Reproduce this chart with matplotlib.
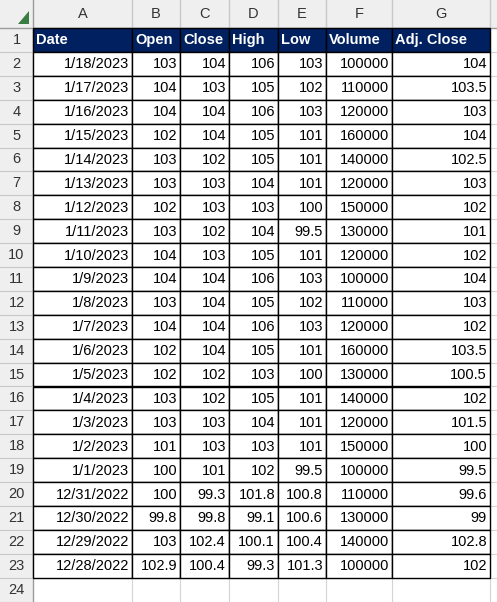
import matplotlib.pyplot as plt
from matplotlib.patches import Rectangle, Polygon

plt.rcParams["font.family"] = ["Liberation Sans", "DejaVu Sans"]

columns = ["Date", "Open", "Close", "High", "Low", "Volume", "Adj. Close"]
dates = ["1/18/2023", "1/17/2023", "1/16/2023", "1/15/2023", "1/14/2023", "1/13/2023",
         "1/12/2023", "1/11/2023", "1/10/2023", "1/9/2023", "1/8/2023", "1/7/2023",
         "1/6/2023", "1/5/2023", "1/4/2023", "1/3/2023", "1/2/2023", "1/1/2023",
         "12/31/2022", "12/30/2022", "12/29/2022", "12/28/2022"]
open_ = [103, 104, 104, 102, 103, 103, 102, 103, 104, 104, 103, 104,
         102, 102, 103, 103, 101, 100, 100, 99.8, 103, 102.9]
close = [104, 103, 104, 104, 102, 103, 103, 102, 103, 104, 104, 104,
         104, 102, 102, 103, 103, 101, 99.3, 99.8, 102.4, 100.4]
high = [106, 105, 106, 105, 105, 104, 103, 104, 105, 106, 105, 106,
        105, 103, 105, 104, 103, 102, 101.8, 99.1, 100.1, 99.3]
low = [103, 102, 103, 101, 101, 101, 100, 99.5, 101, 103, 102, 103,
       101, 100, 101, 101, 101, 99.5, 100.8, 100.6, 100.4, 101.3]
volume = [100000, 110000, 120000, 160000, 140000, 120000, 150000, 130000, 120000,
          100000, 110000, 120000, 160000, 130000, 140000, 120000, 150000, 100000,
          110000, 130000, 140000, 100000]
adj_close = [104, 103.5, 103, 104, 102.5, 103, 102, 101, 102, 104, 103, 102,
             103.5, 100.5, 102, 101.5, 100, 99.5, 99.6, 99, 102.8, 102]

col_letters = ["A", "B", "C", "D", "E", "F", "G"]
col_edges = [33, 132, 180, 229, 278, 326, 392, 490]
head_h = 28
row_h = 23.9
n_rows = 24

fig = plt.figure(figsize=(4.97, 6.02), dpi=100)
ax = fig.add_axes([0, 0, 1, 1])
ax.set_xlim(0, 497)
ax.set_ylim(602, 0)
ax.axis("off")

grid = "#D4D4D4"
fs = 10.5

# sheet header strips
ax.add_patch(Rectangle((0, 0), 497, head_h, facecolor="#EFEFEF", edgecolor="none"))
ax.add_patch(Rectangle((0, 0), col_edges[0], 602, facecolor="#EFEFEF", edgecolor="none"))
ax.add_patch(Polygon([[18, 24], [29, 24], [29, 11]], closed=True, facecolor="#3A7D44", edgecolor="none"))
ax.plot([0, 497], [head_h, head_h], color="#9B9B9B", lw=1)
ax.plot([col_edges[0], col_edges[0]], [0, 602], color="#9B9B9B", lw=1)

for i, letter in enumerate(col_letters):
    x0, x1 = col_edges[i], col_edges[i + 1]
    ax.text((x0 + x1) / 2, head_h / 2, letter, ha="center", va="center", fontsize=fs, color="#333333")
    ax.plot([x1, x1], [0, head_h], color="#C8C8C8", lw=1)
    ax.plot([x1, x1], [head_h, 602], color=grid, lw=0.8, zorder=0)

for r in range(n_rows):
    y0 = head_h + r * row_h
    ax.text(col_edges[0] / 2, y0 + row_h / 2, str(r + 1), ha="center", va="center", fontsize=fs, color="#333333")
    ax.plot([0, col_edges[0]], [y0 + row_h, y0 + row_h], color="#C8C8C8", lw=0.8)
    ax.plot([col_edges[0], 497], [y0 + row_h, y0 + row_h], color=grid, lw=0.8, zorder=0)

# table header row
y0 = head_h
for i, name in enumerate(columns):
    x0, x1 = col_edges[i], col_edges[i + 1]
    ax.add_patch(Rectangle((x0, y0), x1 - x0, row_h, facecolor="#002060", edgecolor="black", lw=1, zorder=2))
    ax.text(x0 + 3, y0 + row_h / 2, name, ha="left", va="center", fontsize=fs,
            color="white", fontweight="bold", zorder=3)

series = [dates, open_, close, high, low, volume, adj_close]
for r in range(len(dates)):
    y0 = head_h + (r + 1) * row_h
    for i, s in enumerate(series):
        x0, x1 = col_edges[i], col_edges[i + 1]
        ax.add_patch(Rectangle((x0, y0), x1 - x0, row_h, facecolor="white", edgecolor="black", lw=1, zorder=2))
        v = s[r]
        txt = v if isinstance(v, str) else f"{v:g}"
        ax.text(x1 - 3, y0 + row_h / 2 + 0.5, txt, ha="right", va="center", fontsize=fs, color="black", zorder=3)

fig.savefig("out.png", dpi=100)
